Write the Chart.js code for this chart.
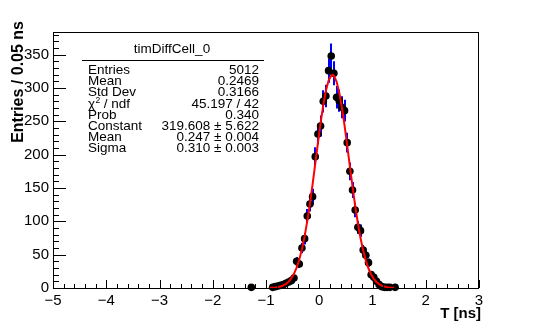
<!DOCTYPE html>
<html>
<head>
<meta charset="utf-8">
<script src="https://cdn.jsdelivr.net/npm/chart.js@4.4.0/dist/chart.umd.min.js"></script>
<style>
    html, body { margin: 0; padding: 0; background: #fff; }
    #wrap { width: 534px; height: 322px; }
</style>
</head>
<body>
<div id="wrap"><canvas id="myChart" width="534" height="322"></canvas></div>
<script>
// histogram bins (0.05 ns wide), only non-empty ones
const binCenters = [-1.275, -0.875, -0.825, -0.775, -0.725, -0.675, -0.625, -0.575, -0.525, -0.475,
    -0.425, -0.375, -0.325, -0.275, -0.225, -0.175, -0.125, -0.075, -0.025, 0.025,
    0.075, 0.125, 0.175, 0.225, 0.275, 0.325, 0.375, 0.425, 0.475, 0.525,
    0.575, 0.625, 0.675, 0.725, 0.775, 0.825, 0.875, 0.925, 0.975, 1.025,
    1.075, 1.125, 1.175, 1.225, 1.275, 1.325, 1.425];
const counts = [1, 1, 2, 3, 4, 5, 7, 9, 11, 15,
    40, 36, 60, 74, 108, 126, 137, 197, 231, 243,
    280, 288, 326, 348, 322, 286, 281, 271, 266, 218,
    175, 147, 117, 91, 86, 57, 49, 38, 20, 16,
    10, 5, 2, 1, 1, 1, 1];

// red gaussian fit curve
const fitX = [-0.925, -0.875, -0.825, -0.775, -0.725, -0.675, -0.625, -0.575, -0.525, -0.475,
    -0.425, -0.375, -0.325, -0.275, -0.225, -0.175, -0.125, -0.075, -0.025, 0.025,
    0.075, 0.125, 0.175, 0.225, 0.25, 0.275, 0.325, 0.375, 0.425, 0.475,
    0.525, 0.575, 0.625, 0.675, 0.725, 0.775, 0.825, 0.875, 0.925, 0.975,
    1.025, 1.075, 1.125, 1.175, 1.225, 1.275, 1.325, 1.375, 1.425];
const fitY = [0.25, 0.46, 0.81, 1.4, 2.3, 3.8, 6.1, 9.5, 14.4, 21.2,
    30.5, 42.7, 58.3, 77.4, 100.3, 126.5, 155.6, 186.4, 217.5, 247.3,
    274.0, 295.8, 311.1, 318.8, 319.6, 318.3, 309.7, 293.5, 271.1, 243.9,
    213.8, 182.6, 152.0, 123.2, 97.4, 74.9, 56.2, 41.1, 29.2, 20.3,
    13.7, 9.0, 5.8, 3.6, 2.2, 1.3, 0.76, 0.43, 0.23];

const xMin = -5, xMax = 3;
const yMin = 0, yMax = 384;

const statsTitle = 'timDiffCell_0';
const statsLabels = ['Entries', 'Mean', 'Std Dev', 'CHI2', 'Prob', 'Constant', 'Mean', 'Sigma'];
const statsValues = ['5012', '0.2469', '0.3166', '45.197 / 42', '0.340',
    '319.608 \u00b1 5.622', '0.247 \u00b1 0.004', '0.310 \u00b1 0.003'];

const FONT = '"Liberation Sans", Arial, sans-serif';
const ctx = document.getElementById('myChart').getContext('2d');

const histPoints = binCenters.map((x, i) => ({ x: x, y: counts[i] }));
const fitPoints = fitX.map((x, i) => ({ x: x, y: fitY[i] }));

// blue sqrt(N) error bars under the markers
const errorBars = {
    id: 'errorBars',
    beforeDatasetsDraw(chart) {
        const xs = chart.scales.x, ys = chart.scales.y;
        const c = chart.ctx;
        c.save();
        c.strokeStyle = '#0000ff';
        c.lineWidth = 2;
        binCenters.forEach((x, i) => {
            const e = Math.sqrt(counts[i]);
            const px = Math.round(xs.getPixelForValue(x));
            c.beginPath();
            c.moveTo(px, ys.getPixelForValue(counts[i] - e));
            c.lineTo(px, ys.getPixelForValue(counts[i] + e));
            c.stroke();
        });
        c.restore();
    }
};

// ROOT style frame, inward ticks, axis titles and stats box
const rootStyle = {
    id: 'rootStyle',
    afterDraw(chart) {
        const a = chart.chartArea;
        const xs = chart.scales.x, ys = chart.scales.y;
        const c = chart.ctx;
        c.save();
        c.strokeStyle = '#000';
        c.lineWidth = 1;
        c.strokeRect(a.left + 0.5, a.top + 0.5, a.right - a.left - 1, a.bottom - a.top);

        c.beginPath();
        for (let k = 0; k <= (xMax - xMin) * 5; k++) {
            const v = xMin + k * 0.2;
            const px = Math.round(xs.getPixelForValue(v)) + 0.5;
            const len = (k % 5 === 0) ? 8 : 4;
            c.moveTo(px, a.bottom);
            c.lineTo(px, a.bottom - len);
        }
        for (let v = 0; v <= yMax; v += 10) {
            const py = Math.round(ys.getPixelForValue(v)) + 0.5;
            const len = (v % 50 === 0) ? 13 : 6;
            c.moveTo(a.left, py);
            c.lineTo(a.left + len, py);
        }
        c.stroke();

        // axis titles
        c.fillStyle = '#000';
        c.font = 'bold 15px ' + FONT;
        c.textAlign = 'right';
        c.textBaseline = 'alphabetic';
        c.fillText('T [ns]', a.right + 2, 318);
        c.save();
        c.font = 'bold 16px ' + FONT;
        c.translate(23, a.top - 11);
        c.rotate(-Math.PI / 2);
        c.textAlign = 'right';
        c.fillText('Entries / 0.05 ns', 0, 0);
        c.restore();

        // stats box
        const left = 88, right = 259;
        const fs = '13.5px ';
        c.font = fs + FONT;
        c.textAlign = 'center';
        c.fillText(statsTitle, 172, 53);
        c.beginPath();
        c.moveTo(82, 60.5);
        c.lineTo(264, 60.5);
        c.stroke();
        statsLabels.forEach((lab, i) => {
            const y = 74 + i * 11.2;
            c.textAlign = 'left';
            c.font = fs + FONT;
            if (lab === 'CHI2') {
                c.fillText('\u03c7', left, y);
                const w = c.measureText('\u03c7').width;
                c.font = '8.5px ' + FONT;
                c.fillText('2', left + w + 0.5, y - 5);
                c.font = fs + FONT;
                c.fillText(' / ndf', left + w + 5, y);
            } else {
                c.fillText(lab, left, y);
            }
            c.textAlign = 'right';
            c.fillText(statsValues[i], right, y);
        });
        c.restore();
    }
};

const myChart = new Chart(ctx, {
    type: 'scatter',
    data: {
        datasets: [
            {
                label: 'fit',
                type: 'line',
                data: fitPoints,
                borderColor: '#ff0000',
                borderWidth: 2,
                pointRadius: 0,
                tension: 0,
                fill: false,
                order: 0
            },
            {
                label: 'timDiffCell_0',
                data: histPoints,
                backgroundColor: '#000',
                borderWidth: 0,
                pointRadius: 3.8,
                clip: false,
                order: 1
            }
        ]
    },
    options: {
        responsive: false,
        animation: false,
        layout: { padding: { left: 0, top: 32, right: 55, bottom: 0 } },
        plugins: { legend: { display: false }, tooltip: { enabled: false } },
        scales: {
            x: {
                type: 'linear',
                min: xMin,
                max: xMax,
                afterFit(s) { s.height = 34; },
                grid: { display: false, drawTicks: false },
                border: { display: false },
                ticks: {
                    stepSize: 1,
                    autoSkip: false,
                    maxRotation: 0,
                    padding: 4,
                    color: '#000',
                    font: { family: FONT, size: 15 },
                    callback: (v) => String(v).replace('-', '\u2212')
                }
            },
            y: {
                type: 'linear',
                min: yMin,
                max: yMax,
                afterFit(s) { s.width = 53; },
                grid: { display: false, drawTicks: false },
                border: { display: false },
                ticks: {
                    stepSize: 50,
                    includeBounds: false,
                    padding: 4,
                    color: '#000',
                    font: { family: FONT, size: 15 }
                }
            }
        }
    },
    plugins: [errorBars, rootStyle]
});
</script>
</body>
</html>
